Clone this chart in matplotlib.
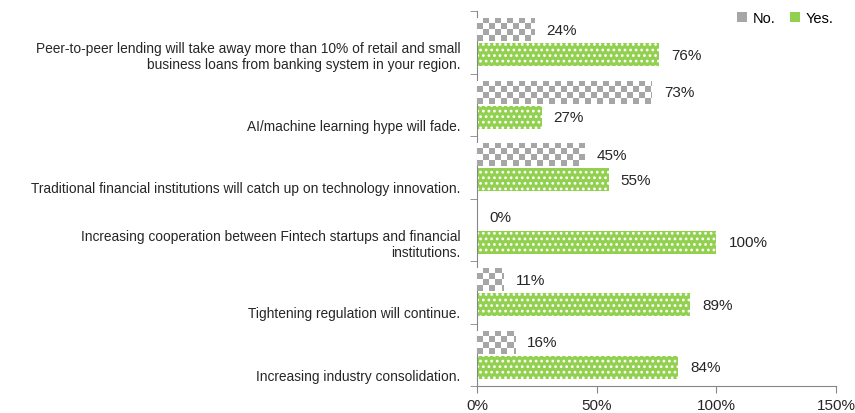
import numpy as np
import matplotlib.pyplot as plt
from matplotlib.ticker import FixedLocator
from matplotlib.colors import ListedColormap
from matplotlib.patches import Patch

plt.rcParams['font.family'] = ['Liberation Sans', 'DejaVu Sans']
plt.rcParams['hatch.color'] = 'white'
plt.rcParams['hatch.linewidth'] = 1.2

categories = [
    "Peer-to-peer lending will take away more than 10% of retail and small\nbusiness loans from banking system in your region.",
    "AI/machine learning hype will fade.",
    "Traditional financial institutions will catch up on technology innovation.",
    "Increasing cooperation between Fintech startups and financial\ninstitutions.",
    "Tightening regulation will continue.",
    "Increasing industry consolidation.",
]
no_vals = [24, 73, 45, 0, 11, 16]
yes_vals = [76, 27, 55, 100, 89, 84]
xticks = [0, 50, 100, 150]

green = '#92d050'
grey = '#a6a6a6'
text_col = '#262626'

fig = plt.figure(figsize=(8.55, 4.14), dpi=100)
ax = fig.add_axes([0.558, 0.065, 0.42, 0.906])

n = len(categories)
y = np.arange(n)
h = 0.37
off = 0.2

no_bars = ax.barh(y - off, no_vals, height=h, color='white', edgecolor='none', zorder=2)
yes_bars = ax.barh(y + off, yes_vals, height=h, color=green, edgecolor='white',
                   hatch='...', linewidth=0, zorder=2)

# checkerboard fill for the "No." bars (cells about 6 px square)
cmap = ListedColormap(['white', grey])
cw = 2.5     # cell width in data units
ch = 0.095   # cell height in data units
for bar in no_bars:
    w = bar.get_width()
    if w <= 0:
        continue
    y0 = bar.get_y()
    ncols = int(np.ceil(w / cw)) + 1
    nrows = int(np.ceil(bar.get_height() / ch)) + 1
    board = (np.indices((nrows, ncols)).sum(axis=0) % 2).astype(float)
    im = ax.imshow(board, cmap=cmap, interpolation='nearest', aspect='auto',
                   extent=[0, ncols * cw, y0 + nrows * ch, y0], zorder=3)
    im.set_clip_path(bar)

for bars, vals in [(no_bars, no_vals), (yes_bars, yes_vals)]:
    for bar, v in zip(bars, vals):
        ax.text(bar.get_width() + 5, bar.get_y() + bar.get_height() / 2, f"{v}%",
                va='center', ha='left', fontsize=11, color=text_col, zorder=4)

ax.set_xlim(0, 150)
ax.set_ylim(n - 0.5, -0.5)
ax.set_xticks(xticks)
ax.set_xticklabels([f"{t}%" for t in xticks], fontsize=11, color=text_col)
# category labels sit a little below the middle of each group
label_shift = [0.18 if "\n" in c else 0.31 for c in categories]
ax.set_yticks(y + np.array(label_shift))
ax.set_yticklabels(categories, fontsize=9.9, color=text_col, linespacing=1.2)
ax.tick_params(axis='y', length=0, pad=12)
ax.yaxis.set_minor_locator(FixedLocator(np.arange(n + 1) - 0.5))
ax.tick_params(axis='y', which='minor', length=5, color='#868686')
ax.tick_params(axis='x', length=5, color='#868686', direction='out')

for s in ['top', 'right']:
    ax.spines[s].set_visible(False)
for s in ['left', 'bottom']:
    ax.spines[s].set_color('#868686')

handles = [Patch(facecolor=grey, edgecolor='none'), Patch(facecolor=green, edgecolor='none')]
ax.legend(handles, ['No.', 'Yes.'], loc='upper right', bbox_to_anchor=(1.03, 1.035),
          ncol=2, frameon=False, fontsize=10.5, handlelength=0.7, handleheight=0.7,
          columnspacing=1.0, handletextpad=0.4)

fig.savefig('out.png', dpi=100)
